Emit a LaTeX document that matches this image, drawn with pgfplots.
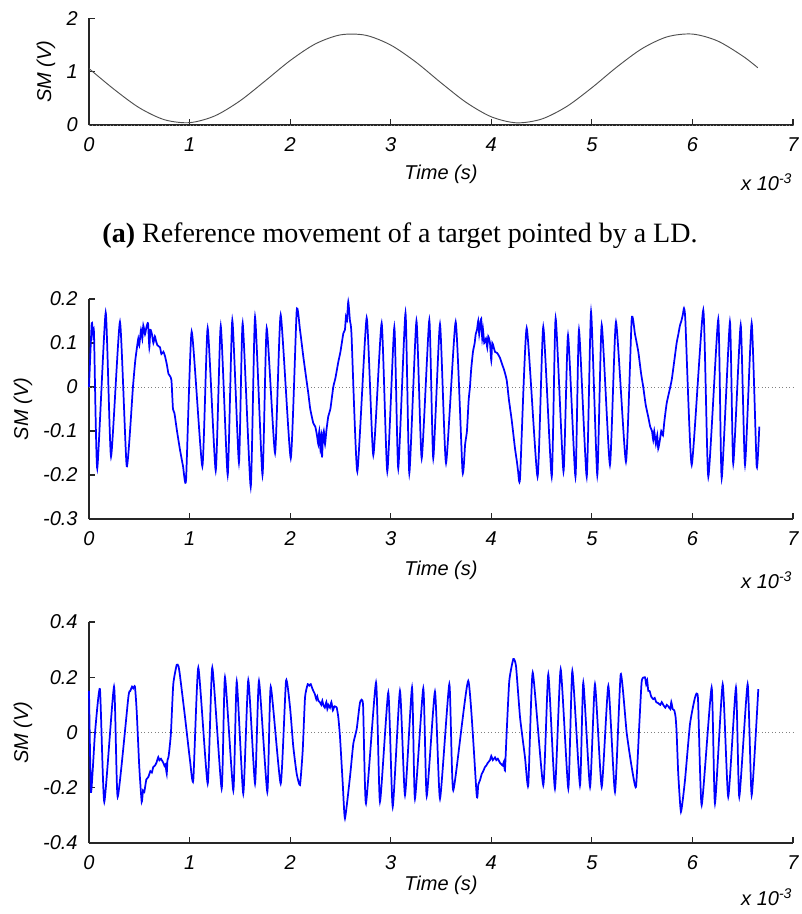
\documentclass[border=0pt]{standalone}
\usepackage{pgfplots}
\pgfplotsset{compat=1.18}
\usepackage{fontspec}
\setmainfont{Liberation Serif}
\newfontfamily\arial{Liberation Sans}
\newcommand\tickfont{\arial\itshape\fontsize{15}{17}\selectfont}
\definecolor{sig}{RGB}{0,0,255}
\definecolor{sine}{RGB}{80,80,80}
\pgfplotsset{
  myax/.style={
    scale only axis, width=528pt, xmin=0, xmax=7,
    axis x line*=bottom, axis y line*=left,
    axis line style={-, line width=0.8pt, black!85},
    tick align=inside, major tick length=4.5pt,
    tick style={black!85, line width=0.8pt},
    xtick={0,...,7},
    ticklabel style={font=\tickfont},
    xticklabel style={yshift=-6pt},
    yticklabel style={xshift=-5pt},
    /pgf/number format/assume math mode=true,
    clip=false,
  }
}
\begin{document}
\begin{tikzpicture}
\useasboundingbox (0,0) rectangle (600.75pt,-685.5pt);
% ---------- top ----------
\begin{axis}[myax, at={(66.75pt,-93.75pt)}, anchor=south west, height=80pt,
  ymin=0, ymax=2, ytick={0,1,2}]
\addplot[sine, line width=0.7pt, smooth] coordinates {
(0,1.058) (0.25,0.668) (0.5,0.323) (0.75,0.099) (1.0,0.044) (1.25,0.170)
(1.5,0.451) (1.75,0.824) (2.0,1.208) (2.25,1.520) (2.5,1.690) (2.75,1.683)
(3.0,1.499) (3.25,1.180) (3.5,0.792) (3.75,0.424) (4.0,0.154) (4.25,0.041)
(4.5,0.111) (4.75,0.347) (5.0,0.699) (5.25,1.089) (5.5,1.433) (5.75,1.654)
(6.0,1.705) (6.25,1.576) (6.5,1.293) (6.65,1.074)};
\addplot[gray, dotted, line width=0.6pt] coordinates {(0,0) (7,0)};
\node[font=\tickfont, rotate=90] at (axis description cs:-0.061,0.5) {SM (V)};
\node[font=\tickfont] at (axis description cs:0.5,-0.46) {Time (s)};
\end{axis}
% ---------- middle ----------
\begin{axis}[myax, at={(66.75pt,-389.25pt)}, anchor=south west, height=165pt,
  ymin=-0.3, ymax=0.2, ytick={-0.3,-0.2,-0.1,0,0.1,0.2},
  yticklabel style={/pgf/number format/.cd, fixed, precision=1}]
\addplot[gray, dotted, line width=0.6pt] coordinates {(0,0) (7,0)};
\addplot[sig, line width=1.3pt, smooth, tension=0.3] coordinates {
(0.000,0.0) (0.027,0.145) (0.040,0.12) (0.050,0.12) (0.082,-0.185) (0.166,0.169) (0.219,-0.158)
(0.308,0.148) (0.375,-0.18)
(0.437,0.0) (0.46,0.06) (0.477,0.09) (0.49,0.11) (0.50,0.095) (0.517,0.13) (0.53,0.11)
(0.54,0.14) (0.557,0.12) (0.57,0.135) (0.587,0.145) (0.60,0.09) (0.61,0.13) (0.626,0.12)
(0.64,0.10) (0.655,0.115) (0.666,0.105) (0.68,0.095) (0.706,0.09) (0.72,0.075) (0.74,0.08)
(0.756,0.07) (0.775,0.05) (0.79,0.03) (0.805,0.025) (0.82,0.015) (0.835,-0.05) (0.85,-0.06)
(0.875,-0.1) (0.905,-0.143) (0.935,-0.18) (0.965,-0.211)
(1.021,0.126) (1.127,-0.18) (1.180,0.134) (1.260,-0.19) (1.310,0.139) (1.379,-0.2)
(1.425,0.152) (1.491,-0.172) (1.528,0.145) (1.608,-0.227) (1.651,0.159) (1.725,-0.2)
(1.767,0.134) (1.850,-0.15) (1.906,0.164) (2.006,-0.162) (2.065,0.173)
(2.098,0.13) (2.131,0.069) (2.16,0.02) (2.181,-0.015) (2.2,-0.05) (2.23,-0.082) (2.25,-0.09)
(2.267,-0.11) (2.28,-0.13) (2.29,-0.10) (2.30,-0.14) (2.31,-0.11) (2.317,-0.16) (2.325,-0.12)
(2.335,-0.10) (2.347,-0.13) (2.36,-0.10) (2.379,-0.067) (2.40,-0.05) (2.429,0.0) (2.45,0.02)
(2.479,0.057) (2.50,0.08) (2.529,0.122) (2.545,0.13) (2.555,0.16) (2.565,0.15) (2.578,0.194)
(2.595,0.15) (2.61,0.12)
(2.668,-0.192) (2.761,0.157) (2.827,-0.155) (2.910,0.145) (2.966,-0.192) (3.036,0.136)
(3.075,-0.185) (3.147,0.168) (3.185,-0.196) (3.256,0.15) (3.308,-0.162) (3.384,0.152)
(3.423,-0.162) (3.490,0.143) (3.550,-0.173) (3.646,0.148) (3.714,-0.192)
(3.74,-0.13) (3.758,-0.1) (3.775,-0.03) (3.788,0.0) (3.80,0.04) (3.818,0.08) (3.835,0.10)
(3.845,0.12) (3.858,0.13) (3.87,0.15) (3.88,0.12) (3.888,0.14) (3.90,0.155) (3.91,0.11)
(3.918,0.13) (3.93,0.10) (3.947,0.11) (3.96,0.09) (3.97,0.115) (3.987,0.10) (4.0,0.06)
(4.01,0.1) (4.037,0.08) (4.06,0.077) (4.087,0.066) (4.11,0.05) (4.126,0.04) (4.153,0.016)
(4.176,-0.03) (4.203,-0.075) (4.236,-0.14) (4.255,-0.17) (4.266,-0.19) (4.286,-0.207)
(4.352,0.134) (4.460,-0.204) (4.517,0.137) (4.601,-0.204) (4.640,0.156) (4.718,-0.192)
(4.763,0.118) (4.837,-0.204) (4.872,0.13) (4.949,-0.204) (4.992,0.171) (5.054,-0.2)
(5.098,0.141) (5.180,-0.177) (5.240,0.148) (5.339,-0.17) (5.396,0.154)
(5.429,0.12) (5.462,0.08) (5.49,0.03) (5.511,0.0) (5.535,-0.04) (5.561,-0.068) (5.58,-0.09)
(5.598,-0.1) (5.61,-0.12) (5.62,-0.10) (5.637,-0.13) (5.65,-0.11) (5.66,-0.14) (5.677,-0.12)
(5.69,-0.10) (5.707,-0.11) (5.72,-0.08) (5.744,-0.037) (5.77,-0.01) (5.794,0.016) (5.82,0.06)
(5.843,0.1) (5.86,0.12) (5.876,0.14) (5.89,0.15) (5.905,0.165) (5.916,0.179) (5.93,0.15)
(5.993,-0.177) (6.108,0.175) (6.158,-0.204) (6.257,0.154) (6.291,-0.207) (6.373,0.148)
(6.406,-0.174) (6.480,0.141) (6.523,-0.177) (6.589,0.145) (6.639,-0.181) (6.665,-0.09)};
\node[font=\tickfont, rotate=90] at (axis description cs:-0.094,0.5) {SM (V)};
\node[font=\tickfont] at (axis description cs:0.5,-0.232) {Time (s)};
\end{axis}
% ---------- bottom ----------
\begin{axis}[myax, at={(66.75pt,-632.25pt)}, anchor=south west, height=165.75pt,
  ymin=-0.4, ymax=0.4, ytick={-0.4,-0.2,0,0.2,0.4},
  yticklabel style={/pgf/number format/.cd, fixed, precision=1}]
\addplot[gray, dotted, line width=0.6pt] coordinates {(0,0) (7,0)};
\addplot[sig, line width=1.3pt, smooth, tension=0.3] coordinates {
(0.000,0.151) (0.020,-0.215) (0.060,0.0) (0.109,0.157) (0.152,-0.251) (0.249,0.166)
(0.285,-0.233) (0.391,0.127) (0.41,0.15) (0.428,0.166) (0.44,0.16) (0.457,0.166)
(0.474,0.079) (0.500,-0.125) (0.524,-0.251) (0.537,-0.21) (0.55,-0.215) (0.57,-0.17)
(0.59,-0.161) (0.61,-0.14) (0.625,-0.145) (0.639,-0.125) (0.655,-0.12) (0.67,-0.11)
(0.689,-0.089) (0.70,-0.10) (0.715,-0.095) (0.739,-0.11) (0.75,-0.12) (0.76,-0.115)
(0.773,-0.149) (0.78,-0.10) (0.79,-0.09) (0.80,-0.06) (0.815,0.0) (0.838,0.175)
(0.872,0.245) (0.89,0.24) (0.905,0.205) (0.955,0.055) (1.004,-0.10) (1.037,-0.173)
(1.087,0.235) (1.180,-0.185) (1.226,0.235) (1.319,-0.203) (1.352,0.2) (1.435,-0.21)
(1.469,0.185) (1.534,-0.221) (1.584,0.19) (1.651,-0.185) (1.690,0.187) (1.773,-0.215)
(1.807,0.166) (1.906,-0.185) (1.959,0.187) (1.999,0.091) (2.031,-0.05) (2.065,-0.149)
(2.098,-0.19) (2.125,-0.065) (2.148,0.127) (2.175,0.175)
(2.19,0.17) (2.205,0.175) (2.22,0.16) (2.23,0.151) (2.245,0.14) (2.26,0.12) (2.27,0.13)
(2.28,0.115) (2.295,0.11) (2.31,0.10) (2.32,0.115) (2.33,0.10) (2.345,0.09) (2.36,0.11)
(2.37,0.085) (2.38,0.10) (2.396,0.09) (2.41,0.11) (2.425,0.08) (2.44,0.095) (2.463,0.09)
(2.479,0.055) (2.496,-0.017) (2.523,-0.185) (2.545,-0.311) (2.595,-0.161) (2.628,-0.041)
(2.662,0.013) (2.695,0.109) (2.725,0.10) (2.754,-0.257) (2.854,0.181) (2.893,-0.251)
(2.976,0.145) (3.020,-0.269) (3.092,0.151) (3.142,-0.227) (3.212,0.163) (3.241,-0.24)
(3.324,0.16) (3.358,-0.23) (3.440,0.148) (3.490,-0.24) (3.583,0.175) (3.622,-0.209)
(3.771,0.187) (3.855,-0.227)
(3.87,-0.19) (3.89,-0.17) (3.905,-0.15) (3.92,-0.14) (3.937,-0.125) (3.95,-0.12)
(3.965,-0.11) (3.987,-0.1) (4.0,-0.085) (4.015,-0.10) (4.037,-0.09) (4.05,-0.10)
(4.065,-0.095) (4.087,-0.11) (4.10,-0.115) (4.115,-0.12) (4.126,-0.105) (4.136,-0.137)
(4.153,0.0) (4.179,0.187) (4.219,0.266) (4.246,0.24) (4.286,0.055) (4.335,-0.089)
(4.368,-0.191) (4.412,0.217) (4.517,-0.191) (4.567,0.211) (4.633,-0.203) (4.690,0.229)
(4.766,-0.203) (4.806,0.223) (4.882,-0.191) (4.915,0.181) (4.982,-0.197) (5.031,0.175)
(5.098,-0.197) (5.164,0.169) (5.230,-0.215) (5.287,0.211) (5.346,0.0) (5.396,-0.125)
(5.439,-0.197) (5.472,0.03) (5.496,0.187) (5.528,0.2)
(5.54,0.175) (5.55,0.19) (5.561,0.151) (5.575,0.15) (5.59,0.13) (5.611,0.121) (5.625,0.125)
(5.64,0.11) (5.661,0.106) (5.68,0.10) (5.695,0.11) (5.71,0.10) (5.73,0.09) (5.745,0.1)
(5.76,0.095) (5.78,0.085) (5.79,0.11) (5.804,0.085) (5.82,0.08) (5.833,0.055) (5.843,0.0)
(5.859,-0.149) (5.886,-0.287) (5.926,-0.173) (5.976,0.031) (6.026,0.127) (6.055,0.125)
(6.092,-0.263) (6.191,0.163) (6.224,-0.257) (6.301,0.175) (6.356,-0.233) (6.433,0.163)
(6.466,-0.233) (6.549,0.175) (6.589,-0.227) (6.655,0.157)};
\node[font=\tickfont, rotate=90] at (axis description cs:-0.094,0.5) {SM (V)};
\node[font=\tickfont] at (axis description cs:0.5,-0.19) {Time (s)};
\end{axis}
% caption and exponents
\node[font=\fontsize{21}{24}\selectfont] at (300pt,-177pt) {\textbf{(a)} Reference movement of a target pointed by a LD.};
\node[font=\tickfont] at (575pt,-137pt) {x 10\textsuperscript{-3}};
\node[font=\tickfont] at (575pt,-435pt) {x 10\textsuperscript{-3}};
\node[font=\tickfont] at (575pt,-673pt) {x 10\textsuperscript{-3}};
\end{tikzpicture}
\end{document}
